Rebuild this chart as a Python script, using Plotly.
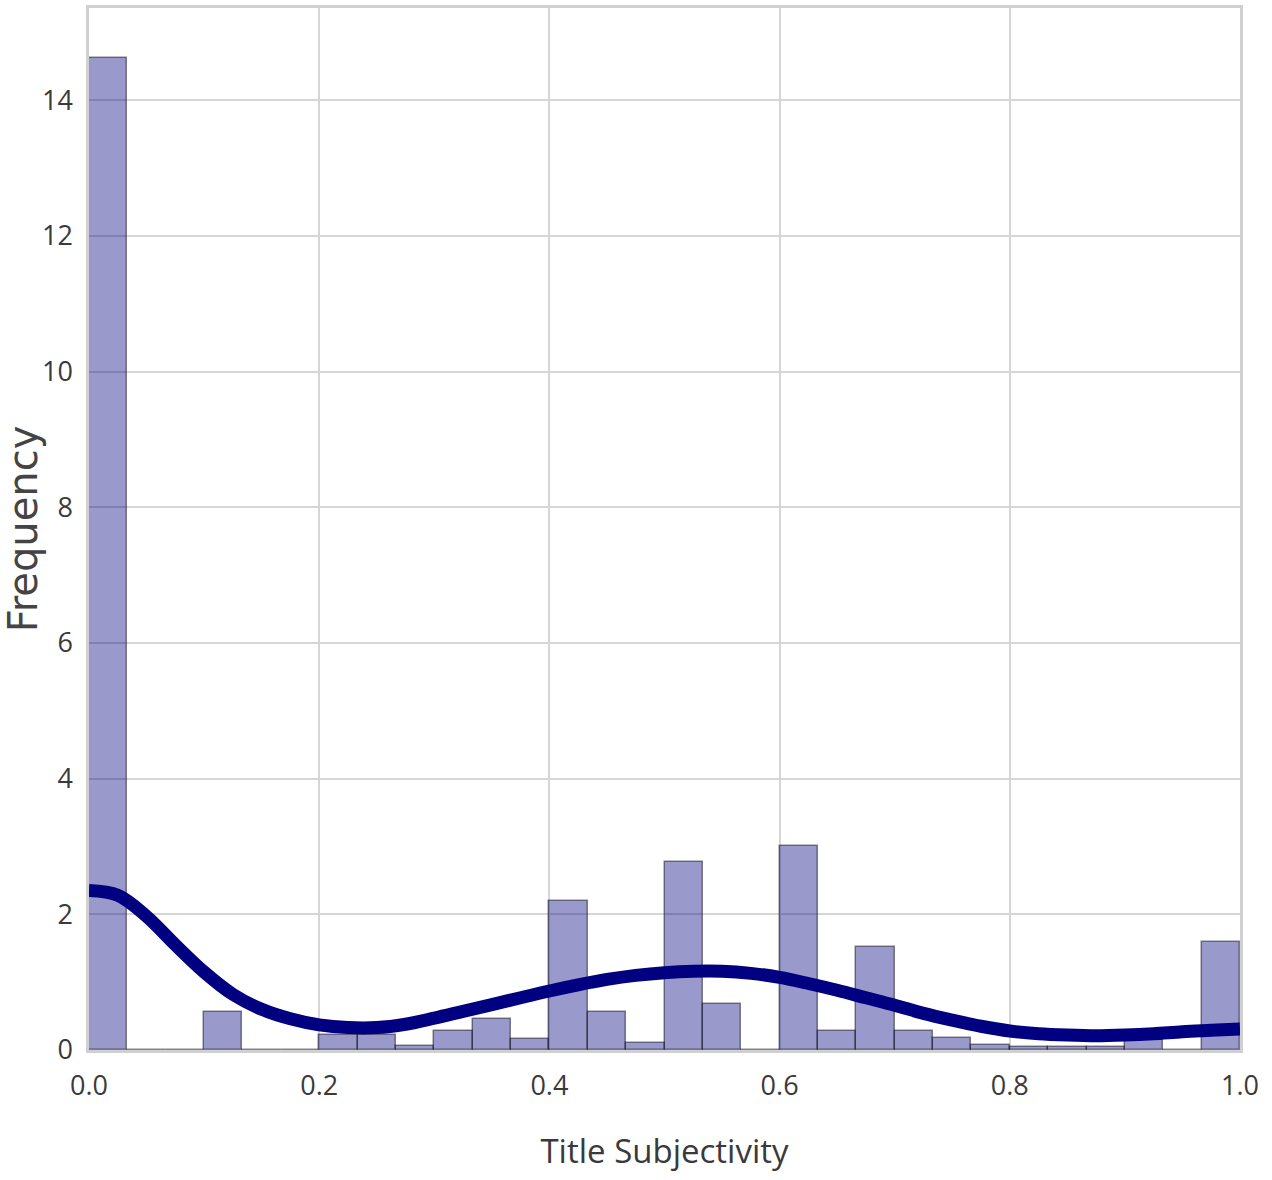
import numpy as np
import plotly.graph_objects as go

# Histogram of title subjectivity scores: 30 equal bins on [0, 1], normalised
n_bins = 30
bin_density = [14.63, 0.0, 0.0, 0.56, 0.0, 0.0, 0.22, 0.22, 0.06, 0.28,
               0.45, 0.16, 2.20, 0.56, 0.11, 2.77, 0.68, 0.0, 3.00, 0.28,
               1.52, 0.28, 0.17, 0.07, 0.05, 0.05, 0.05, 0.15, 0.0, 1.59]

# Kernel density estimate drawn over the bars
kde_x = [0.0, 0.025, 0.05, 0.075, 0.1, 0.125, 0.15, 0.175, 0.2, 0.225,
         0.25, 0.275, 0.3, 0.325, 0.35, 0.375, 0.4, 0.425, 0.45, 0.475,
         0.5, 0.525, 0.55, 0.575, 0.6, 0.625, 0.65, 0.675, 0.7, 0.725,
         0.75, 0.775, 0.8, 0.825, 0.85, 0.875, 0.9, 0.925, 0.95, 0.975, 1.0]
kde_y = [2.35, 2.28, 1.97, 1.55, 1.15, 0.82, 0.60, 0.46, 0.37, 0.33,
         0.33, 0.38, 0.47, 0.57, 0.67, 0.77, 0.87, 0.96, 1.04, 1.10,
         1.14, 1.16, 1.16, 1.13, 1.07, 0.98, 0.88, 0.77, 0.66, 0.54,
         0.44, 0.35, 0.28, 0.24, 0.22, 0.21, 0.22, 0.24, 0.27, 0.29, 0.31]

x_ticks = [0.0, 0.2, 0.4, 0.6, 0.8, 1.0]
y_ticks = [0, 2, 4, 6, 8, 10, 12, 14]

edges = np.linspace(0.0, 1.0, n_bins + 1)
centers = (edges[:-1] + edges[1:]) / 2
bin_w = edges[1] - edges[0]

label_family = "Open Sans, Noto Sans, sans-serif"
tick_font = dict(family=label_family, size=27, color="#3a3a3a")

fig = go.Figure()
fig.add_trace(go.Bar(
    x=centers, y=bin_density, width=bin_w,
    marker=dict(color="rgba(0,0,128,0.4)",
                line=dict(color="rgba(30,30,50,0.55)", width=1.5)),
    showlegend=False, hoverinfo="skip",
))
fig.add_trace(go.Scatter(
    x=kde_x, y=kde_y, mode="lines",
    line=dict(color="#000080", width=13, shape="spline", smoothing=1.0),
    showlegend=False,
))

fig.update_layout(
    width=1272, height=1180,
    margin=dict(l=89, r=32, t=8, b=130),
    paper_bgcolor="white", plot_bgcolor="white",
    bargap=0,
)
fig.update_xaxes(
    range=[0, 1], tickvals=x_ticks, tickformat=".1f",
    tickfont=tick_font, ticks="", ticklabelstandoff=10,
    showgrid=True, gridcolor="#d6d6d6", gridwidth=1.6,
    showline=True, mirror=True, linecolor="#d0d0d0", linewidth=2.5,
    zeroline=False, automargin=False,
    title=dict(text="Title Subjectivity", standoff=38,
               font=dict(family=label_family, size=33, color="#3a3a3a")),
)
fig.update_yaxes(
    range=[0, 15.36], tickvals=y_ticks,
    tickfont=tick_font, ticks="", ticklabelstandoff=8,
    showgrid=True, gridcolor="#d6d6d6", gridwidth=1.6,
    showline=True, mirror=True, linecolor="#d0d0d0", linewidth=2.5,
    zeroline=False, automargin=False,
    title=dict(text="Frequency", standoff=14,
               font=dict(family="DejaVu Sans", size=40, color="#444444")),
)

fig.write_html("out.html")
